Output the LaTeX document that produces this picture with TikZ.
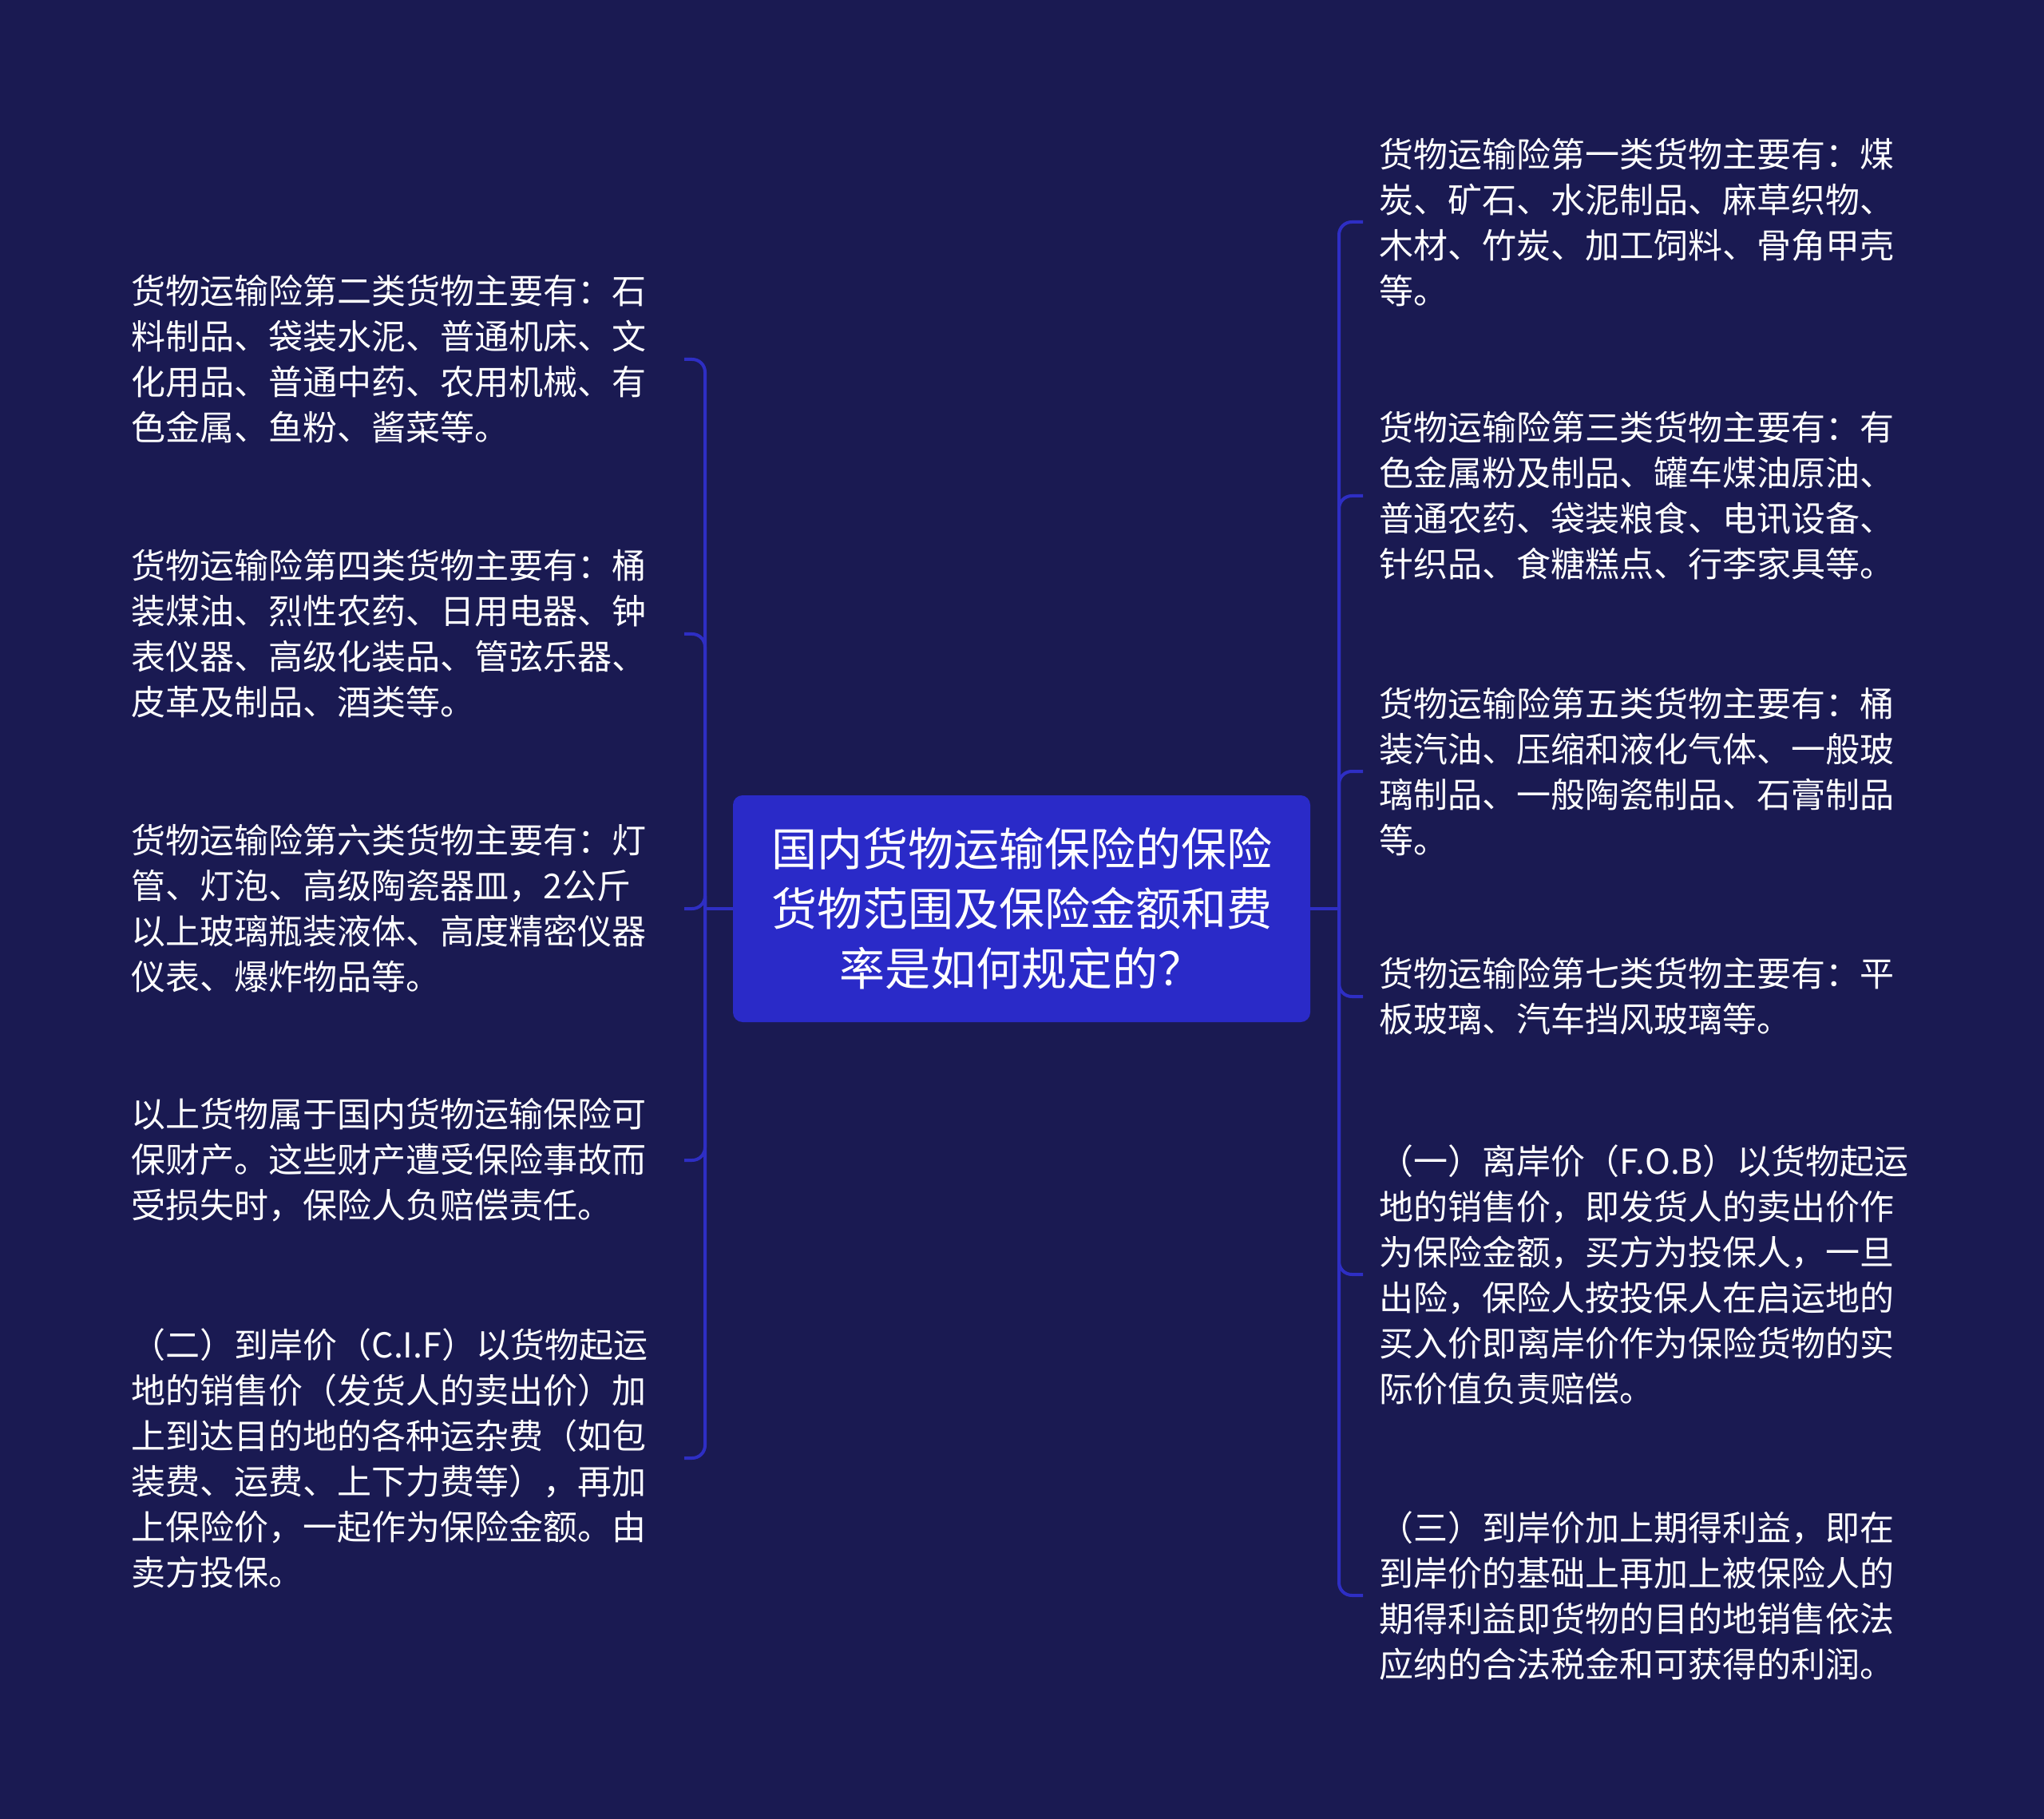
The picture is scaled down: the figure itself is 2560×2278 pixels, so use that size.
\documentclass[tikz,border=0pt]{standalone}
\usepackage{fontspec}
\setmainfont{Noto Sans CJK SC}
\usetikzlibrary{positioning,calc}
\definecolor{bgnavy}{RGB}{26,26,82}
\definecolor{rootblue}{RGB}{42,42,200}
\definecolor{linkblue}{RGB}{46,46,196}

\begin{document}
\begin{tikzpicture}[x=0.5pt,y=-0.5pt,
    root/.style={fill=rootblue,rounded corners=6pt,text=white,align=center,text width=330pt,
      minimum width=361.5pt,minimum height=142pt,font=\fontsize{28.5pt}{37.5pt}\selectfont},
    leaf/.style={text=white,text width=336pt,inner xsep=10pt,align=left,
      font=\fontsize{21.5pt}{28.5pt}\selectfont},
    link/.style={draw=linkblue,line width=2pt,rounded corners=8pt}]
  % background
  \fill[bgnavy] (0,0) rectangle (2560,2278);
  \useasboundingbox (0,0) rectangle (2560,2278);

  \node[root] (topic) at (1279.5,1138)
    {国内货物运输保险的保险\\货物范围及保险金额和费\\率是如何规定的？};

  % left side
  \node[leaf,anchor=east] (cls2) at (857,450)
    {货物运输险第二类货物主要有：石\\料制品、袋装水泥、普通机床、文\\化用品、普通中药、农用机械、有\\色金属、鱼粉、酱菜等。};
  \node[leaf,anchor=east] (cls4) at (857,794)
    {货物运输险第四类货物主要有：桶\\装煤油、烈性农药、日用电器、钟\\表仪器、高级化装品、管弦乐器、\\皮革及制品、酒类等。};
  \node[leaf,anchor=east] (cls6) at (857,1138)
    {货物运输险第六类货物主要有：灯\\管、灯泡、高级陶瓷器皿，2公斤\\以上玻璃瓶装液体、高度精密仪器\\仪表、爆炸物品等。};
  \node[leaf,anchor=east] (scope) at (857,1453)
    {以上货物属于国内货物运输保险可\\保财产。这些财产遭受保险事故而\\受损失时，保险人负赔偿责任。};
  \node[leaf,anchor=east] (cif) at (857,1826)
    {（二）到岸价（C.I.F）以货物起运\\地的销售价（发货人的卖出价）加\\上到达目的地的各种运杂费（如包\\装费、运费、上下力费等），再加\\上保险价，一起作为保险金额。由\\卖方投保。};

  % right side
  \node[leaf,anchor=west] (cls1) at (1707,278)
    {货物运输险第一类货物主要有：煤\\炭、矿石、水泥制品、麻草织物、\\木材、竹炭、加工饲料、骨角甲壳\\等。};
  \node[leaf,anchor=west] (cls3) at (1707,621)
    {货物运输险第三类货物主要有：有\\色金属粉及制品、罐车煤油原油、\\普通农药、袋装粮食、电讯设备、\\针织品、食糖糕点、行李家具等。};
  \node[leaf,anchor=west] (cls5) at (1707,966)
    {货物运输险第五类货物主要有：桶\\装汽油、压缩和液化气体、一般玻\\璃制品、一般陶瓷制品、石膏制品\\等。};
  \node[leaf,anchor=west] (cls7) at (1707,1248)
    {货物运输险第七类货物主要有：平\\板玻璃、汽车挡风玻璃等。};
  \node[leaf,anchor=west] (fob) at (1707,1596)
    {（一）离岸价（F.O.B）以货物起运\\地的销售价，即发货人的卖出价作\\为保险金额，买方为投保人，一旦\\出险，保险人按投保人在启运地的\\买入价即离岸价作为保险货物的实\\际价值负责赔偿。};
  \node[leaf,anchor=west] (profit) at (1707,1998)
    {（三）到岸价加上期得利益，即在\\到岸价的基础上再加上被保险人的\\期得利益即货物的目的地销售依法\\应纳的合法税金和可获得的利润。};

  % connectors
  \coordinate (ljoin) at (883,1138);
  \coordinate (rjoin) at (1677,1138);
  \draw[link] (topic.west) -- (ljoin);
  \draw[link] (topic.east) -- (rjoin);
  \foreach \n in {cls2,cls4,cls6,scope,cif}
    \draw[link] (ljoin) |- (\n.east);
  \foreach \n in {cls1,cls3,cls5,cls7,fob,profit}
    \draw[link] (rjoin) |- (\n.west);
\end{tikzpicture}
\end{document}
